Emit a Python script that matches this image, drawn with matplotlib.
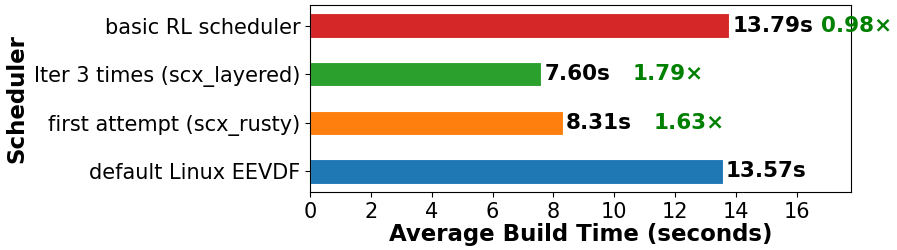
import numpy as np
import matplotlib
matplotlib.use("Agg")
import matplotlib.pyplot as plt

# scheduler results, bottom to top
schedulers = ["default Linux EEVDF", "first attempt (scx_rusty)",
              "Iter 3 times (scx_layered)", "basic RL scheduler"]
build_times = [13.57, 8.31, 7.60, 13.79]
speedups = [None, "1.63×", "1.79×", "0.98×"]
colors = ["#1f77b4", "#ff7f0e", "#2ca02c", "#d62728"]

fig, ax = plt.subplots(figsize=(8.97, 2.5), dpi=100)
y = np.arange(len(schedulers))
ax.barh(y, build_times, height=0.5, color=colors, edgecolor="white", linewidth=0.8)

for yi, t, s in zip(y, build_times, speedups):
    ax.text(t + 0.1, yi, f"{t:.2f}s", va="center", ha="left",
            fontsize=15.5, fontweight="bold", color="black")
    if s is not None:
        ax.text(t + 3.0, yi, s, va="center", ha="left",
                fontsize=15.5, fontweight="bold", color="green")

ax.set_yticks(y)
ax.set_yticklabels(schedulers, fontsize=15)
ax.tick_params(axis="x", labelsize=15)
ax.set_xlim(0, 17.8)
ax.set_xticks(np.arange(0, 17, 2))
ax.set_xlabel("Average Build Time (seconds)", fontsize=16.5, fontweight="bold", labelpad=1)
ax.set_ylabel("Scheduler", fontsize=16.5, fontweight="bold", labelpad=4)

fig.subplots_adjust(left=0.346, right=0.949, top=0.98, bottom=0.232)
fig.savefig("out.png", dpi=100)
